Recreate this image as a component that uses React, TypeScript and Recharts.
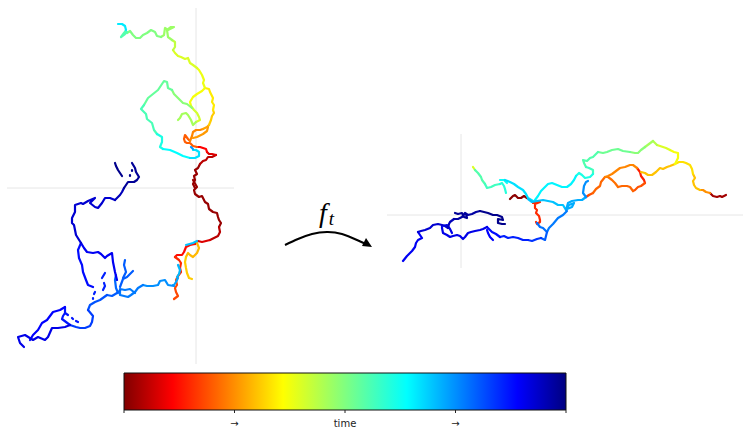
import { ComposedChart, Line, ReferenceArea, ReferenceLine, XAxis, YAxis } from "recharts";

// each stroke is [time, x, y, x, y, ...], in page-sized units
type Stroke = number[];

const leftStrokes: Stroke[] = [
  [0.02, 195,188, 193,184, 195,180, 194,176, 197,174, 195,170, 198,168, 200,164],
  [0.05, 200,164, 203,161, 206,160, 208,157, 212,157, 216,155],
  [0.08, 216,155, 212,154, 209,154, 207,152],
  [0.11, 207,152, 206,149, 203,148, 200,147, 197,147],
  [0.02, 193,180, 197,187, 194,190, 195,194, 199,197, 202,196, 205,202, 208,204, 209,209, 213,212, 217,213, 218,217, 219,220, 221,223, 219,227],
  [0.05, 219,227, 220,232, 218,236, 214,238, 210,240],
  [0.08, 210,240, 206,241, 202,242, 198,241, 195,244],
  [0.12, 195,244, 190,245, 186,247, 184,252, 182,255, 177,255, 175,257],
  [0.15, 175,257, 179,260, 181,263, 180,268, 181,272, 178,276],
  [0.18, 178,276, 176,280, 177,285, 175,288, 176,292, 178,296, 174,299],
  [0.2, 197,147, 193,146, 190,143, 187,143, 185,142, 184,139, 185,135, 188,139, 190,141],
  [0.24, 190,141, 192,136, 193,132, 196,130, 200,130, 203,129],
  [0.26, 193,138, 197,137, 203,134, 207,131, 208,127],
  [0.27, 203,129, 207,127, 209,125],
  [0.29, 197,243, 199,248, 197,253, 193,257, 190,255, 188,253, 186,257],
  [0.31, 186,257, 185,262, 186,268, 187,273, 189,278, 192,279],
  [0.31, 209,125, 211,120, 212,116, 214,113, 213,110],
  [0.34, 213,110, 214,105, 212,102, 213,98, 210,92, 209,89, 205,88],
  [0.37, 205,88, 202,91, 197,94, 193,97, 190,102, 191,106],
  [0.38, 205,88, 203,83, 204,80, 202,75, 199,70, 197,68],
  [0.4, 197,68, 193,65, 190,63, 188,58, 185,59, 181,57, 178,56, 175,53, 173,50],
  [0.41, 191,106, 194,110, 197,113, 199,117, 200,120, 196,122],
  [0.43, 173,50, 175,47, 175,42, 172,40],
  [0.46, 196,122, 193,125, 191,120, 188,115, 186,113, 182,114, 180,118, 178,120],
  [0.47, 172,40, 168,37, 167,30, 171,27, 174,27, 168,30, 165,28, 164,35, 161,37],
  [0.49, 192,108, 187,104, 183,103, 178,98, 174,94, 172,90],
  [0.5, 161,37, 157,36, 155,32, 151,30, 147,33, 143,35, 140,38, 136,38, 133,35, 130,31, 127,33],
  [0.53, 172,90, 168,88, 167,82, 164,81, 162,84, 158,90, 153,94, 148,98, 144,105],
  [0.55, 127,32, 125,34, 121,37, 124,33, 126,30],
  [0.56, 144,105, 141,109, 146,114, 147,119, 152,123, 154,130, 157,134],
  [0.61, 157,134, 162,137, 162,142, 160,147, 163,149],
  [0.64, 163,149, 170,150, 177,153, 183,156, 190,158],
  [0.66, 126,30, 125,26, 122,24, 118,24],
  [0.67, 190,158, 195,158, 199,156, 199,152, 196,150, 193,150],
  [0.7, 197,241, 193,243, 186,245],
  [0.71, 178,265, 180,270, 179,274, 177,277],
  [0.73, 178,278, 176,282, 174,285, 173,285],
  [0.74, 193,149, 191,147],
  [0.75, 174,286, 168,285, 165,280, 160,281, 158,285, 153,286, 147,286, 143,285],
  [0.77, 143,285, 138,288, 135,292, 131,295, 128,297, 124,296, 120,295, 120,289, 125,290, 130,289, 135,293],
  [0.79, 120,290, 118,293, 116,288, 115,280, 116,275],
  [0.8, 120,287, 123,279, 127,277, 133,271],
  [0.8, 123,278, 126,272, 124,265, 125,260],
  [0.8, 117,293, 112,296, 107,295],
  [0.81, 107,295, 100,300, 95,302, 90,305, 88,310],
  [0.83, 88,310, 93,316, 92,322, 90,326, 85,328, 80,328, 76,327, 70,325],
  [0.86, 95,292, 94,294],
  [0.86, 93,298, 93,299],
  [0.86, 103,290, 105,286, 104,283],
  [0.86, 102,278, 105,273],
  [0.87, 70,325, 62,319, 63,316, 65,313, 65,307],
  [0.87, 65,313, 68,315],
  [0.87, 72,318, 73,319],
  [0.87, 76,321, 78,322],
  [0.88, 81,243, 78,250, 79,258, 82,265, 83,272, 86,280, 88,285, 93,287],
  [0.89, 65,307, 60,310, 53,312, 47,320, 42,323, 38,330, 33,335, 30,340],
  [0.9, 117,280, 115,272, 113,262, 112,253, 107,256, 105,258, 101,254, 98,252, 93,253, 87,252, 84,248, 81,243],
  [0.91, 70,325, 65,327, 58,328, 52,328, 48,337, 45,340, 38,337, 33,340, 25,335, 18,337, 20,343, 24,347],
  [0.93, 81,243, 76,235, 74,225, 72,223, 72,218, 75,212, 75,205, 81,203, 83,204, 88,201, 95,198, 90,203, 95,207, 98,208, 102,203, 105,198, 110,198, 115,200],
  [0.95, 115,200, 120,195, 122,192, 124,188],
  [0.98, 124,188, 128,182, 134,182, 137,180, 139,177, 136,172, 135,168, 132,163],
  [0.99, 132,170, 132,171],
  [0.99, 130,175, 130,176],
  [0.99, 122,176, 120,173, 118,170, 116,166, 115,163],
];

const rightStrokes: Stroke[] = [
  [0.01, 510,199, 513,196, 515,195, 518,198, 521,198, 524,196, 527,198],
  [0.03, 710,193, 713,196, 717,197, 720,196, 722,197, 726,195],
  [0.14, 637,168, 640,172, 641,176, 644,180, 645,183],
  [0.15, 533,203, 537,202, 540,202, 535,204, 535,208, 537,210, 536,213, 539,216, 540,220, 540,222, 537,224, 536,222],
  [0.17, 589,195, 586,197],
  [0.19, 645,183, 641,186, 638,187, 635,190, 633,191],
  [0.19, 593,193, 589,195],
  [0.21, 605,177, 601,182, 600,186, 596,189, 593,193],
  [0.21, 633,191, 630,187, 627,186, 622,186, 618,187],
  [0.22, 618,187, 615,183, 612,180, 608,177, 605,177],
  [0.24, 637,168, 633,165, 630,165, 625,167, 620,168, 616,171, 612,174, 608,176, 605,177],
  [0.25, 710,193, 706,192, 703,190, 700,190],
  [0.3, 700,190, 696,188, 694,185, 693,181, 695,178, 693,174],
  [0.3, 675,164, 670,166, 667,167, 663,169, 660,168, 656,172, 652,175, 648,175, 645,173, 641,172],
  [0.33, 693,174, 692,169, 690,165, 686,163, 683,162, 679,162, 675,164],
  [0.37, 675,164, 678,158, 678,153, 674,152, 670,150],
  [0.4, 670,150, 666,148, 663,147, 660,146, 657,145],
  [0.4, 473,167, 475,170],
  [0.44, 657,145, 653,141],
  [0.46, 645,147, 649,144, 653,141],
  [0.49, 630,152, 635,153, 638,153, 641,150, 645,147],
  [0.52, 598,152, 603,153, 607,152, 612,150, 618,149, 623,151, 630,152],
  [0.55, 586,167, 584,163, 583,160, 587,161, 590,158, 593,157, 596,154, 598,152],
  [0.55, 475,170, 478,173, 481,177, 482,180, 485,184],
  [0.57, 593,174, 593,170, 589,168, 586,167],
  [0.57, 485,184, 487,188, 491,187, 495,185, 500,184],
  [0.6, 500,184, 502,183, 504,186, 505,189, 506,193],
  [0.61, 576,176, 579,173, 582,175, 585,178, 590,177, 593,174],
  [0.63, 500,180, 504,180, 507,183],
  [0.65, 535,200, 538,196, 541,191, 544,188, 548,184, 552,183, 557,185, 562,187, 567,187, 571,184, 574,180, 576,176],
  [0.67, 505,180, 510,182, 514,184, 518,187, 523,190, 526,194, 528,198, 533,201],
  [0.7, 528,199, 532,202, 537,201, 543,200, 548,201, 553,202, 558,205, 563,205, 566,210],
  [0.72, 566,210, 568,203, 572,201, 578,200, 582,200, 586,197],
  [0.72, 566,209, 569,205, 574,203, 572,207, 567,209],
  [0.75, 586,197, 583,193, 584,186, 586,182, 588,181],
  [0.77, 567,211, 563,215, 558,218, 553,224, 549,228, 547,232],
  [0.78, 547,232, 543,228, 540,227, 537,223],
  [0.8, 547,232, 546,236, 545,240, 541,238],
  [0.84, 541,238, 537,239, 532,241, 528,240],
  [0.86, 528,240, 523,240, 518,238, 513,237, 508,238, 504,236, 500,237],
  [0.88, 500,237, 496,234, 492,232, 489,229, 487,227],
  [0.89, 493,240, 490,237, 488,233, 487,230],
  [0.9, 418,232, 420,235, 422,238, 418,240, 416,243, 415,247, 412,251, 410,253, 407,256, 403,261],
  [0.91, 487,227, 483,229, 480,230, 475,231, 471,232, 468,233, 465,237, 463,239, 460,236, 457,235, 453,236, 450,237, 447,235, 443,233, 442,228, 442,226, 447,225, 450,229, 452,233],
  [0.93, 448,228, 445,226, 442,225, 438,224, 433,225, 430,228, 425,230, 421,231, 418,232],
  [0.95, 448,228, 449,224, 450,222, 454,219],
  [0.97, 454,219, 458,219, 462,217, 465,213, 468,215, 472,214, 476,212, 480,211],
  [0.98, 455,213, 458,214, 462,213, 464,217, 467,218, 466,214],
  [0.99, 480,211, 484,212, 488,213, 493,215, 497,215, 502,217, 503,220, 498,219, 498,223, 502,224, 505,224],
];

const arrowX = [285, 298, 312, 327, 342, 357, 368];
const arrowY = [245, 239, 234, 232, 234, 240, 245];

const jetStops: [number, number[]][] = [
  [0, [128, 0, 0]],
  [0.11, [255, 0, 0]],
  [0.36, [255, 255, 0]],
  [0.5, [128, 255, 128]],
  [0.64, [0, 255, 255]],
  [0.89, [0, 0, 255]],
  [1, [0, 0, 128]],
];

const colorbarTicks = [0, 0.25, 0.5, 0.75, 1];
const colorbarLabels = ["", "→", "time", "→", ""];

function jet(t: number) {
  for (let i = 1; i < jetStops.length; i++) {
    const [t0, c0] = jetStops[i - 1];
    const [t1, c1] = jetStops[i];
    if (t <= t1) {
      const k = (t - t0) / (t1 - t0);
      const c = c0.map((v, j) => Math.round(v + (c1[j] - v) * k));
      return `rgb(${c.join(",")})`;
    }
  }
  return "rgb(0,0,128)";
}

function toPoints(stroke: Stroke) {
  const pts = [];
  for (let i = 1; i < stroke.length; i += 2) pts.push({ x: stroke[i], y: stroke[i + 1] });
  return pts;
}

const allStrokes = [...leftStrokes, ...rightStrokes].sort((a, b) => a[0] - b[0]);
const arrowData = arrowX.map((x, i) => ({ x, y: arrowY[i] }));
const colorbarData = colorbarTicks.map((x) => ({ x, y: 0 }));

function ArrowHead(props: any) {
  const { cx, cy, index } = props;
  if (index !== arrowData.length - 1) return <g key={index} />;
  return (
    <polygon
      key={index}
      points={`${cx + 4},${cy + 2} ${cx - 6},${cy + 1} ${cx - 2},${cy - 7}`}
      fill="#000"
    />
  );
}

export default function App() {
  return (
    <div style={{ position: "absolute", left: 0, top: 0, width: 743, height: 430, background: "#fff" }}>
      <div style={{ position: "absolute", left: 0, top: 0 }}>
        <ComposedChart width={743} height={430} margin={{ top: 0, right: 0, bottom: 0, left: 0 }}>
          <XAxis type="number" dataKey="x" domain={[0, 743]} hide />
          <YAxis type="number" domain={[0, 430]} reversed hide />
          <ReferenceLine segment={[{ x: 196, y: 8 }, { x: 196, y: 364 }]} stroke="#e6e6e6" />
          <ReferenceLine segment={[{ x: 7, y: 188 }, { x: 234, y: 188 }]} stroke="#e6e6e6" />
          <ReferenceLine segment={[{ x: 461, y: 134 }, { x: 461, y: 268 }]} stroke="#e6e6e6" />
          <ReferenceLine segment={[{ x: 387, y: 215 }, { x: 743, y: 215 }]} stroke="#e6e6e6" />
          {allStrokes.map((s, i) => (
            <Line
              key={i}
              data={toPoints(s)}
              dataKey="y"
              type="linear"
              stroke={jet(s[0])}
              strokeWidth={2.2}
              strokeLinecap="round"
              strokeLinejoin="round"
              dot={false}
              legendType="none"
              isAnimationActive={false}
            />
          ))}
          <Line
            data={arrowData}
            dataKey="y"
            type="natural"
            stroke="#000"
            strokeWidth={2}
            dot={ArrowHead}
            isAnimationActive={false}
          />
        </ComposedChart>
      </div>
      <div style={{ position: "absolute", left: 0, top: 0 }}>
        <ComposedChart
          width={743}
          height={430}
          data={colorbarData}
          margin={{ top: 373, right: 177, bottom: 0, left: 124 }}
        >
          <defs>
            <linearGradient id="jetBar" x1="0" y1="0" x2="1" y2="0">
              {jetStops.map(([t]) => (
                <stop key={t} offset={t} stopColor={jet(t === 0 ? 0.0001 : t)} />
              ))}
            </linearGradient>
          </defs>
          <XAxis
            type="number"
            dataKey="x"
            domain={[0, 1]}
            ticks={colorbarTicks}
            interval={0}
            axisLine={false}
            tickSize={3}
            tickLine={{ stroke: "#222" }}
            height={20}
            tick={{ fill: "#222", fontSize: 10, fontFamily: "DejaVu Sans", dy: 5 }}
            tickFormatter={(v: number) => colorbarLabels[colorbarTicks.indexOf(v)]}
          />
          <YAxis type="number" domain={[0, 1]} hide />
          <Line dataKey="y" stroke="none" dot={false} legendType="none" isAnimationActive={false} />
          <ReferenceArea x1={0} x2={1} y1={0} y2={1} fill="url(#jetBar)" fillOpacity={1} stroke="#111" />
        </ComposedChart>
      </div>
      <div
        style={{
          position: "absolute",
          left: 319,
          top: 198,
          fontFamily: "Liberation Serif",
          fontStyle: "italic",
          fontSize: 28,
          lineHeight: "30px",
          color: "#000",
        }}
      >
        f<span style={{ fontSize: 19, position: "relative", top: 3, left: 2 }}>t</span>
      </div>
    </div>
  );
}
